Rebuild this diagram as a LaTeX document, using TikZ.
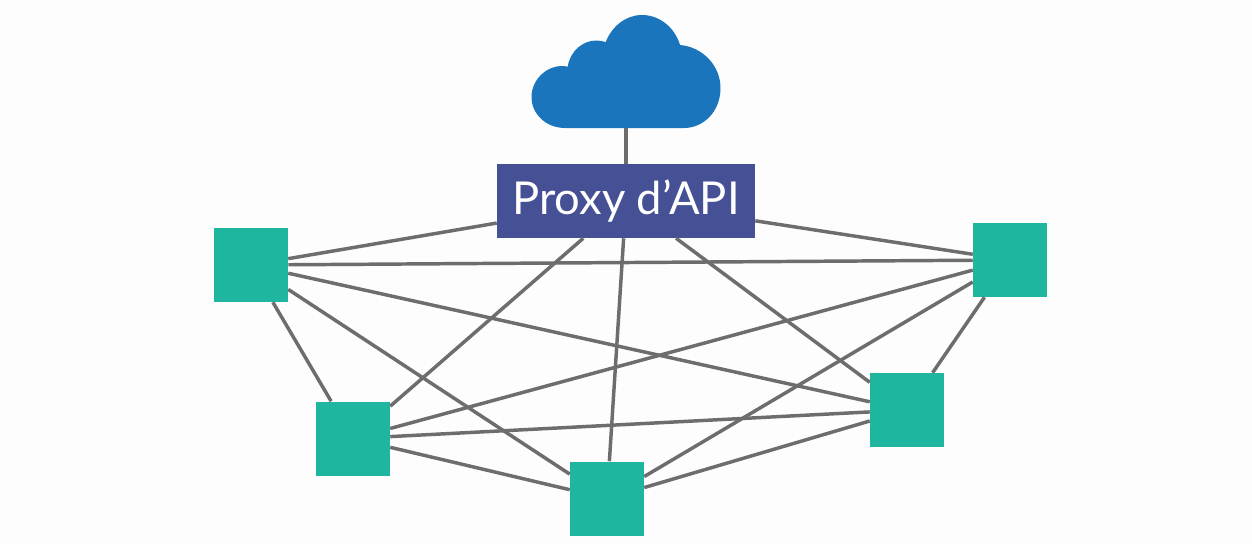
\documentclass[tikz,border=0pt]{standalone}
\usepackage{fontspec}
\setmainfont{Lato}
\usepackage{tikz}
\usetikzlibrary{positioning}
\definecolor{cloudblue}{HTML}{1A75BC}
\definecolor{proxyblue}{HTML}{465095}
\definecolor{nodeteal}{HTML}{1FB6A0}
\definecolor{linkgrey}{HTML}{6D6D6D}
\definecolor{paper}{HTML}{FDFDFD}
\tikzstyle{proxy} = [rectangle, fill=proxyblue, text=white, minimum width=258*0.75pt, minimum height=74*0.75pt, inner sep=0pt, font=\fontsize{34}{36}\selectfont]
\tikzstyle{service} = [rectangle, fill=nodeteal, minimum size=74*0.75pt, inner sep=0pt]
\tikzstyle{cloudbox} = [rectangle, minimum width=190*0.75pt, minimum height=113*0.75pt, inner sep=0pt]
\tikzstyle{link} = [draw=linkgrey, line width=2.6pt]

\begin{document}
\begin{tikzpicture}[x=0.75pt, y=-0.75pt]
    \useasboundingbox (0,0) rectangle (1252,544);
    \fill [paper] (0,0) rectangle (1252,544);
    % Nodes
    \node [cloudbox] (cloud) at (626,71.5) {};
    \node [proxy] (api) at (626,201) {Proxy d’API};
    \node [service] (left) at (251,265) {};
    \node [service] (lowleft) at (353,438.5) {};
    \node [service] (bottom) at (607,498.5) {};
    \node [service] (lowright) at (907,410) {};
    \node [service] (right) at (1010,260) {};

    % Cloud
    \fill [cloudblue] (565,128) .. controls (546,128) and (531.5,114) .. (531.5,97)
        .. controls (531.5,80) and (546,66) .. (562,66)
        .. controls (564,66) and (566,66.3) .. (567.7,66.7)
        .. controls (570,51) and (583,40.5) .. (596,40.5)
        .. controls (599,40.5) and (602.5,41) .. (605.7,42)
        .. controls (612,26) and (626,15) .. (642,15)
        .. controls (660,15) and (675,28) .. (680,45)
        .. controls (703,47) and (720.5,66) .. (720.5,88)
        .. controls (720.5,112) and (703,128) .. (684,128) -- cycle;

    % Paths
    \path [link] (cloud) -- (api);
    \path [link] (left) -- (api);
    \path [link] (left) -- (right);
    \path [link] (left) -- (lowright);
    \path [link] (left) -- (bottom);
    \path [link] (left) -- (lowleft);
    \path [link] (lowleft) -- (api);
    \path [link] (lowleft) -- (right);
    \path [link] (lowleft) -- (lowright);
    \path [link] (lowleft) -- (bottom);
    \path [link] (bottom) -- (api);
    \path [link] (bottom) -- (right);
    \path [link] (bottom) -- (lowright);
    \path [link] (lowright) -- (api);
    \path [link] (lowright) -- (right);
    \path [link] (right) -- (api);
\end{tikzpicture}
\end{document}
